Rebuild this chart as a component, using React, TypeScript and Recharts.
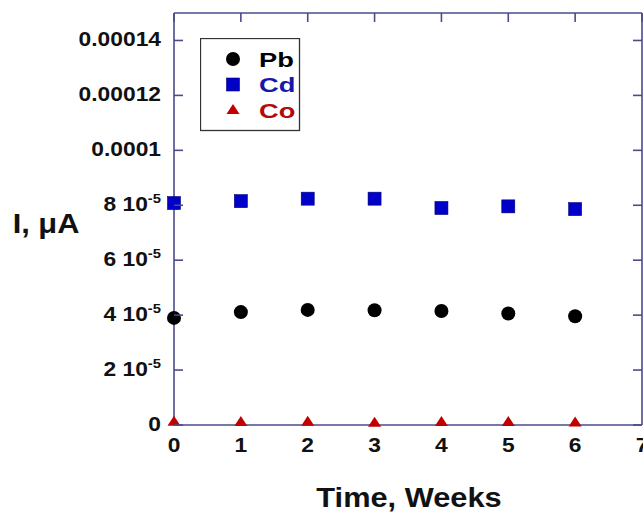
import React from 'react';
import { ScatterChart, Scatter, XAxis, YAxis, Legend } from 'recharts';

// readings, I in µA vs time in weeks
const weeks = [0, 1, 2, 3, 4, 5, 6];
const pbCurrent = [3.9e-5, 4.11e-5, 4.19e-5, 4.18e-5, 4.15e-5, 4.06e-5, 3.96e-5];
const cdCurrent = [8.08e-5, 8.15e-5, 8.24e-5, 8.24e-5, 7.9e-5, 7.96e-5, 7.86e-5];
const coCurrent = [1.2e-6, 1.1e-6, 1.2e-6, 0.8e-6, 1.1e-6, 1.1e-6, 0.9e-6];

const seriesNames = ['Pb', 'Cd', 'Co'];
const markerColors = ['#000000', '#0000c8', '#c00000'];
const labelColors = ['#000000', '#1818a8', '#b40a0a'];

const xTicks = [0, 1, 2, 3, 4, 5, 6, 7];
const yTicks = [0, 0.00002, 0.00004, 0.00006, 0.00008, 0.0001, 0.00012, 0.00014];
const yTickBase = ['0', '2 10', '4 10', '6 10', '8 10', '0.0001', '0.00012', '0.00014'];
const yTickSup = ['', '-5', '-5', '-5', '-5', '', '', ''];

const AXIS = '#4b4b8c';
const FONT = '"Liberation Sans", Arial, sans-serif';
const SX = 1.14;
const GAP = 13; // label gap from axis
const TL = 9; // inward tick length

const toRows = (vals: number[]) => weeks.map((w, i) => ({ week: w, value: vals[i] }));

const Circle = (p: any) => <circle cx={p.cx} cy={p.cy} r={7} fill={markerColors[0]} />;
const Square = (p: any) => (
  <rect x={p.cx - 6.5} y={p.cy - 6.5} width={13} height={13} fill={markerColors[1]} stroke="#00007a" strokeWidth={0.6} />
);
const Triangle = (p: any) => (
  <polygon
    points={`${p.cx},${p.cy - 6} ${p.cx - 6.5},${p.cy + 4} ${p.cx + 6.5},${p.cy + 4}`}
    fill={markerColors[2]}
  />
);
const shapes = [Circle, Square, Triangle];

// bottom tick marks sit under the Co triangles in the original, so only the labels are drawn
const XTick = ({ x, y, payload }: any) => (
  <g transform={`translate(${x},${y}) scale(${SX},1)`}>
    <text textAnchor="middle" dy="0.72em" fontSize={20} fontWeight="bold" fontFamily={FONT} fill="#111">
      {payload.value}
    </text>
  </g>
);

const YTick = ({ x, y, payload }: any) => {
  const i = yTicks.findIndex(t => Math.abs(t - payload.value) < 1e-9);
  return (
    <g>
      <line x1={x + GAP} x2={x + GAP + TL} y1={y} y2={y} stroke={AXIS} strokeWidth={1.6} />
      <g transform={`translate(${x},${y}) scale(${SX},1)`}>
        <text textAnchor="end" dy="0.3em" fontSize={20} fontWeight="bold" fontFamily={FONT} fill="#111">
          {yTickBase[i]}
          {yTickSup[i] && (
            <tspan dy={-8} fontSize={13}>
              {yTickSup[i]}
            </tspan>
          )}
        </text>
      </g>
    </g>
  );
};

const TopTick = ({ x, y }: any) => <line x1={x} x2={x} y1={y} y2={y + TL} stroke={AXIS} strokeWidth={1.6} />;
const RightTick = ({ x, y }: any) => <line x1={x} x2={x - TL} y1={y} y2={y} stroke={AXIS} strokeWidth={1.6} />;
const Blank = () => <g />;

const YTitle = ({ viewBox }: any) => (
  <g transform={`translate(${viewBox.x + 46},${viewBox.y + viewBox.height / 2 + 14}) scale(1.1,1)`}>
    <text textAnchor="middle" fontSize={28} fontWeight="bold" fontFamily={FONT} fill="#111">
      I, μA
    </text>
  </g>
);

const XTitle = ({ viewBox }: any) => (
  <g transform={`translate(${viewBox.x + viewBox.width / 2 + 1},${viewBox.y + 82}) scale(1.14,1)`}>
    <text textAnchor="middle" fontSize={27} fontWeight="bold" fontFamily={FONT} fill="#111">
      Time, Weeks
    </text>
  </g>
);

const LegendBox = () => (
  <svg width={101} height={94} style={{ display: 'block' }}>
    <rect x={0.5} y={0.5} width={99} height={92} fill="#fff" stroke="#333" strokeWidth={1.3} />
    {seriesNames.map((name, i) => {
      const cy = 21 + i * 25.5;
      const Shape = shapes[i];
      return (
        <g key={name}>
          <Shape cx={33} cy={cy} />
          <g transform={`translate(59,${cy}) scale(1.3,1)`}>
            <text dy="0.36em" fontSize={21} fontWeight="bold" fontFamily={FONT} fill={labelColors[i]}>
              {name}
            </text>
          </g>
        </g>
      );
    })}
  </svg>
);

const lineStyle = { stroke: AXIS, strokeWidth: 1.6 };

export default function App() {
  const series = [pbCurrent, cdCurrent, coCurrent];
  return (
    <div style={{ position: 'absolute', left: 0, top: 0, background: '#fff' }}>
      <ScatterChart width={643} height={516} margin={{ top: 12, right: 0, bottom: 0, left: 0 }}>
        <XAxis
          type="number"
          dataKey="week"
          domain={[0, 7]}
          ticks={xTicks}
          interval={0}
          height={91}
          tickSize={0}
          tickMargin={GAP}
          axisLine={lineStyle}
          tickLine={false}
          tick={XTick}
          label={XTitle}
        />
        <XAxis
          xAxisId="top"
          orientation="top"
          type="number"
          dataKey="week"
          domain={[0, 7]}
          ticks={xTicks}
          interval={0}
          height={1}
          tickSize={0}
          tickMargin={0}
          axisLine={lineStyle}
          tickLine={false}
          tick={TopTick}
        />
        <YAxis
          type="number"
          dataKey="value"
          domain={[0, 0.00015]}
          ticks={yTicks}
          interval={0}
          width={174}
          tickSize={0}
          tickMargin={GAP}
          axisLine={lineStyle}
          tickLine={false}
          tick={YTick}
          label={YTitle}
        />
        <YAxis
          yAxisId="right"
          orientation="right"
          type="number"
          dataKey="value"
          domain={[0, 0.00015]}
          ticks={yTicks}
          interval={0}
          width={1}
          tickSize={0}
          tickMargin={0}
          axisLine={lineStyle}
          tickLine={false}
          tick={RightTick}
        />
        <Legend
          verticalAlign="middle"
          layout="horizontal"
          wrapperStyle={{ left: 200, top: 38, width: 101, height: 94 }}
          content={LegendBox}
        />
        {/* invisible series so the top and right frame axes get drawn */}
        <Scatter
          xAxisId="top"
          yAxisId="right"
          data={toRows(pbCurrent)}
          shape={Blank}
          legendType="none"
          isAnimationActive={false}
        />
        {series.map((vals, i) => (
          <Scatter
            key={seriesNames[i]}
            name={seriesNames[i]}
            data={toRows(vals)}
            fill={markerColors[i]}
            shape={shapes[i]}
            isAnimationActive={false}
          />
        ))}
      </ScatterChart>
    </div>
  );
}
